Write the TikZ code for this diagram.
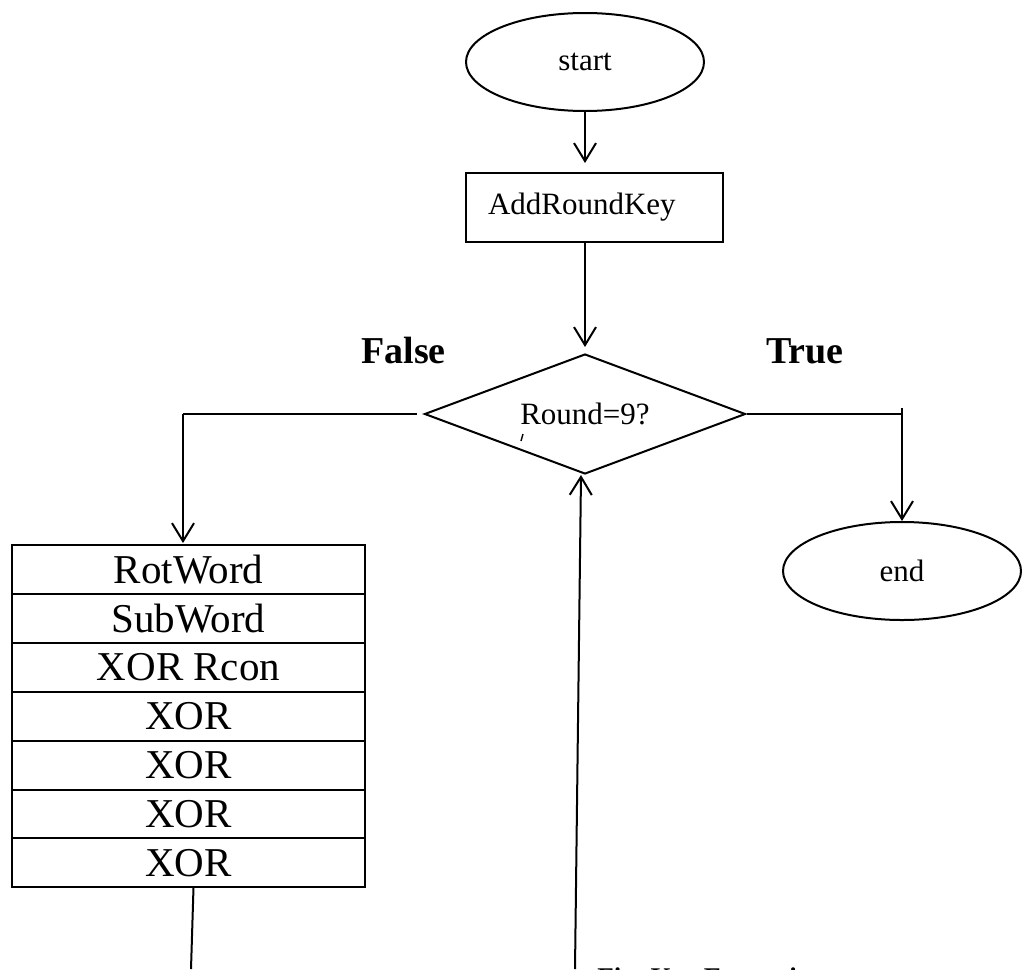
\documentclass[tikz,border=0pt]{standalone}
\usepackage{fontspec}
\setmainfont{Liberation Serif}
\usetikzlibrary{arrows.meta, positioning, shapes.geometric}
\tikzset{
    flecha/.style={-{Straight Barb[length=18pt, width=22pt]}},
    texto chico/.style={font=\fontsize{31}{36}\selectfont},
    texto grande/.style={font=\fontsize{41}{48}\selectfont},
    etiqueta/.style={font=\fontsize{38}{44}\selectfont\bfseries},
    terminal/.style={draw, ellipse, inner sep=0pt, minimum width=238pt, minimum height=98pt, texto chico},
    paso/.style={draw, rectangle, inner sep=0pt, outer sep=0pt, minimum width=353pt, minimum height=48.9pt, texto grande}
}

\begin{document}
\begin{tikzpicture}[x=1pt, y=-1pt, line width=2pt]

    \clip (0,0) rectangle (1024,969);

    % Inicio y primera ronda
    \node [terminal] (inicio) at (585,62) {start};
    \node [draw, inner xsep=22pt, inner ysep=0pt, text width=213pt, align=left, minimum height=69pt, texto chico] (clave) at (594.5,207.5) {AddRoundKey};
    \node [draw, diamond, aspect=2.7, inner sep=0pt, minimum width=321pt, minimum height=120pt, texto chico] (ronda) at (585,414) {Round=9?};
    \node [terminal] (fin) at (902,571) {end};

    \node [etiqueta, anchor=base west] (falso) at (357,363) {False};
    \node [etiqueta, anchor=base west] (verdad) at (762,363) {True};

    % Pasos de la expansion
    \node [paso] (rot) at (188.5,569.5) {RotWord};
    \node [paso, below=0pt of rot] (sub) {SubWord};
    \node [paso, below=0pt of sub] (rcon) {XOR Rcon};
    \node [paso, below=0pt of rcon] (xora) {XOR};
    \node [paso, below=0pt of xora] (xorb) {XOR};
    \node [paso, below=0pt of xorb] (xorc) {XOR};
    \node [paso, below=0pt of xorc] (xord) {XOR};

    \coordinate (codoizq) at (183,414);
    \coordinate (cododer) at (902,414);
    \coordinate (abajoizq) at (191,969);
    \coordinate (abajoder) at (575,969);

    % Conexiones
    \draw [flecha, shorten >=9pt] (inicio.south) -- (inicio.south |- clave.north);
    \draw [flecha, shorten >=6pt] (ronda.north |- clave.south) -- (ronda.north);
    \draw [shorten <=7pt] (ronda.west) -- (codoizq);
    \draw [flecha, shorten >=2pt] (codoizq) -- (codoizq |- rot.north);
    \draw (ronda.east) -- (cododer);
    \draw [flecha] ([yshift=6pt]cododer) -- (fin.north);
    \draw ([xshift=5pt]xord.south) -- (abajoizq);
    \draw [flecha] (abajoder) -- ([xshift=-4pt]ronda.south);

    % Marca suelta bajo el rombo
    \draw [line width=1.4pt] (523,434) -- (521,441);

    \node [font=\fontsize{27}{32}\selectfont\bfseries, anchor=base west] (titulo) at (593,986) {Fig. Key Expansion};

\end{tikzpicture}
\end{document}
